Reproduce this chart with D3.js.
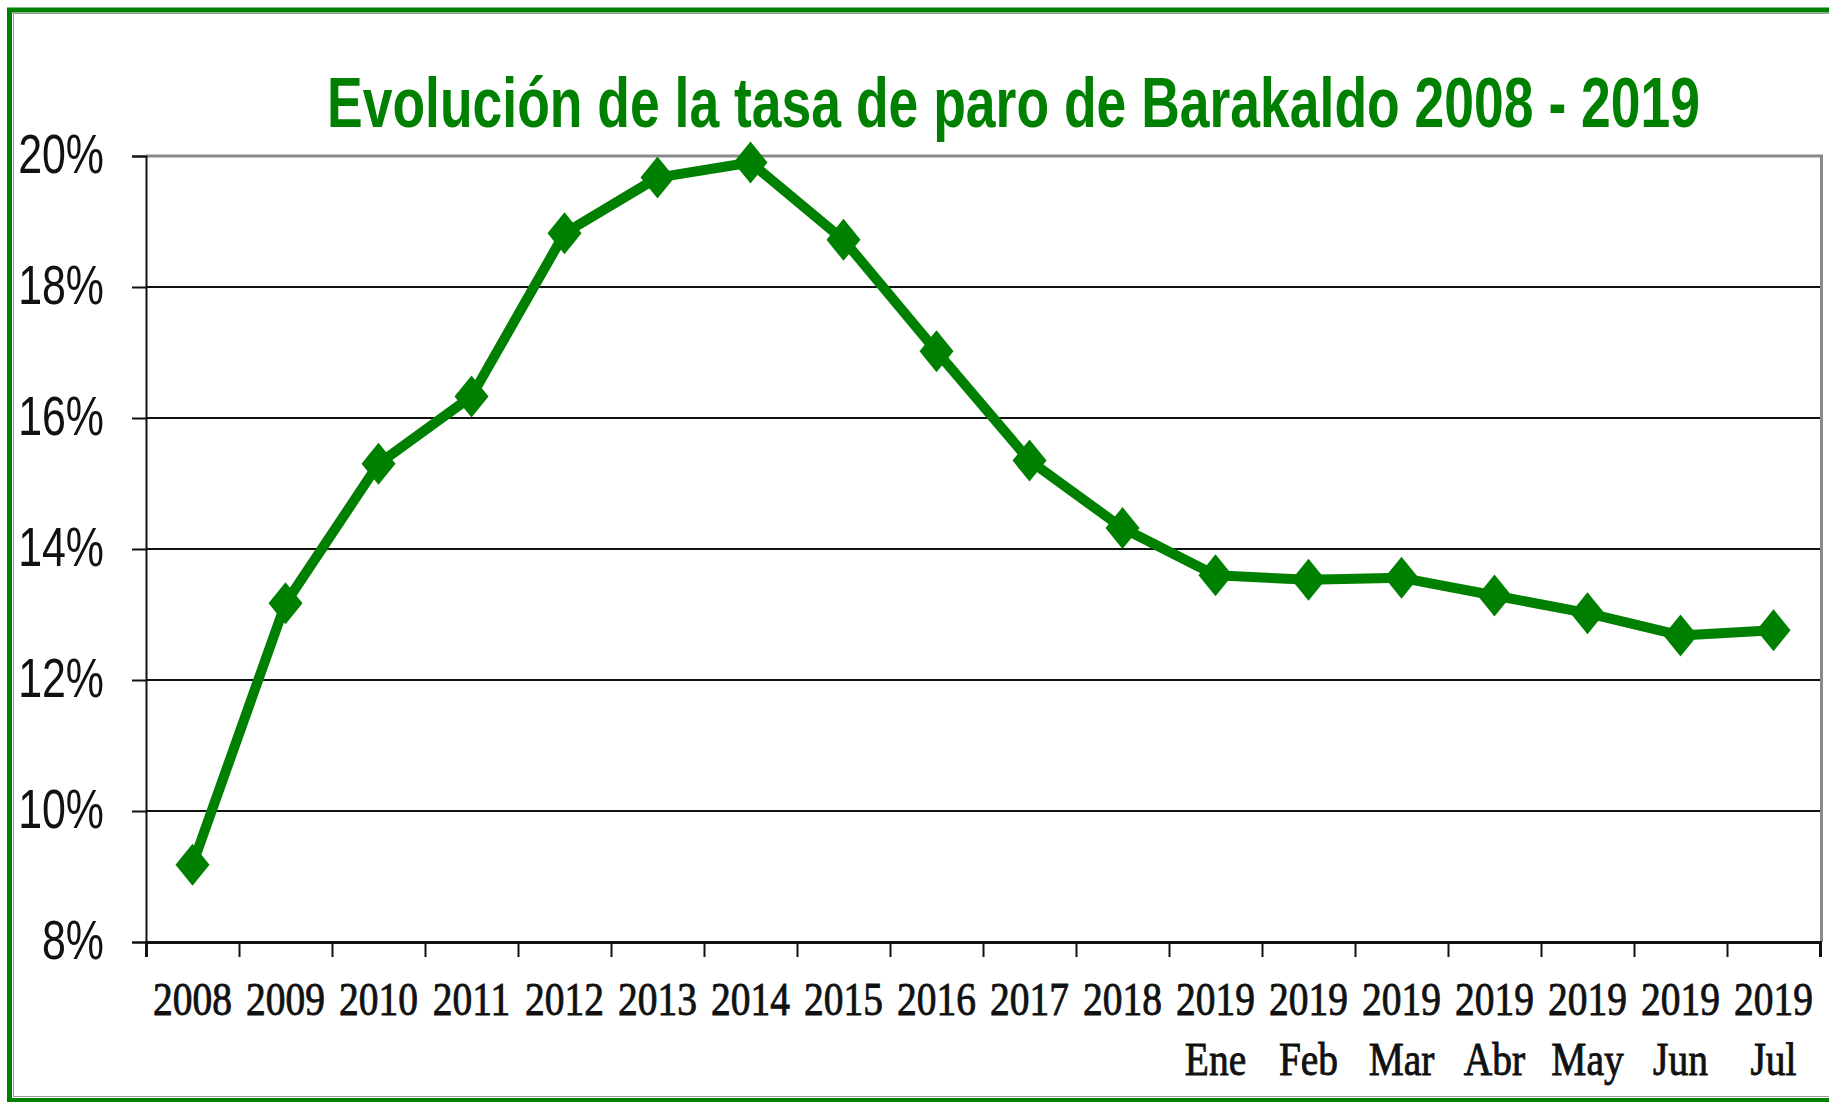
<!DOCTYPE html>
<html>
<head>
<meta charset="utf-8">
<script src="https://cdn.jsdelivr.net/npm/d3@7"></script>
<style>
  html, body { margin: 0; padding: 0; background: #fff; }
  svg { display: block; }
</style>
</head>
<body>
<svg id="chart" width="1829" height="1102"></svg>
<script>
// ---- data ----
const titleText = "Evolución de la tasa de paro de Barakaldo 2008 - 2019";
const yearLabels = ["2008","2009","2010","2011","2012","2013","2014","2015","2016","2017","2018","2019","2019","2019","2019","2019","2019","2019"];
const monthLabels = ["","","","","","","","","","","","Ene","Feb","Mar","Abr","May","Jun","Jul"];
const rates = [9.18, 13.17, 15.30, 16.33, 18.82, 19.67, 19.90, 18.72, 17.02, 15.35, 14.32, 13.60, 13.53, 13.56, 13.29, 13.02, 12.68, 12.76];
const yTicks = [8, 10, 12, 14, 16, 18, 20];

// ---- layout ----
const W = 1829, H = 1102;
const plot = { left: 146, right: 1820, top: 156, bottom: 942 };
const green = "#008000";

const svg = d3.select("#chart");
svg.append("rect").attr("width", W).attr("height", H).attr("fill", "#fff");

// outer frame
svg.append("rect").attr("x", 9.5).attr("y", 10).attr("width", 1840).attr("height", 1090.5)
  .attr("fill", "none").attr("stroke", green).attr("stroke-width", 5);
svg.append("rect").attr("x", 13.5).attr("y", 13.5).attr("width", 1840).attr("height", 1083)
  .attr("fill", "none").attr("stroke", "#9a9a9a").attr("stroke-width", 1);

// scales
const idx = d3.range(yearLabels.length);
const x = d3.scaleBand().domain(idx).range([plot.left, plot.right]).padding(0);
const xEdges = d3.scaleLinear().domain([0, yearLabels.length]).range([plot.left, plot.right]);
const y = d3.scaleLinear().domain([8, 20]).range([plot.bottom, plot.top]);

// gridlines
svg.append("g").selectAll("line").data(yTicks.filter(t => t > 8 && t < 20)).join("line")
  .attr("x1", plot.left).attr("x2", plot.right)
  .attr("y1", d => y(d)).attr("y2", d => y(d))
  .attr("stroke", "#111").attr("stroke-width", 2);

// plot border top & right (gray)
svg.append("path")
  .attr("d", `M${plot.left},${y(20)}H${plot.right + 1.5}V${plot.bottom}`)
  .attr("fill", "none").attr("stroke", "#8a8a8a").attr("stroke-width", 3);

// y axis
const yAxis = svg.append("g").attr("transform", `translate(${plot.left},0)`)
  .call(d3.axisLeft(y).tickValues(yTicks).tickSize(14).tickFormat(d => d + "%"));
yAxis.select(".domain").attr("stroke", "#111").attr("stroke-width", 2);
yAxis.selectAll(".tick line").attr("stroke", "#111").attr("stroke-width", 2);
const ySX = 0.78;
yAxis.selectAll(".tick text")
  .attr("font-family", "'Liberation Sans', Arial, sans-serif")
  .attr("font-size", 55).attr("fill", "#111")
  .attr("x", -42 / ySX).attr("dy", "0.3em")
  .attr("transform", `scale(${ySX},1)`);

// x axis boundary ticks
const xAxisTicks = svg.append("g").attr("transform", `translate(0,${plot.bottom})`)
  .call(d3.axisBottom(xEdges).tickValues(d3.range(yearLabels.length + 1)).tickSize(15).tickFormat(""));
xAxisTicks.select(".domain").attr("stroke", "#111").attr("stroke-width", 3);
xAxisTicks.selectAll(".tick line").attr("stroke", "#111").attr("stroke-width", 2);

// x labels
const xSX = 0.84;
const xLab = svg.append("g").attr("transform", `translate(0,${plot.bottom})`)
  .call(d3.axisBottom(x).tickSize(0).tickFormat(i => yearLabels[i]));
xLab.select(".domain").remove();
xLab.selectAll(".tick text")
  .attr("font-family", "'Liberation Serif', 'Times New Roman', serif")
  .attr("font-size", 47).attr("fill", "#111")
  .attr("stroke", "#111").attr("stroke-width", 0.9)
  .attr("y", 73).attr("dy", 0)
  .attr("transform", `scale(${xSX},1)`)
  .each(function(i) {
    if (monthLabels[i]) {
      d3.select(this).append("tspan").attr("x", 0).attr("y", 133).text(monthLabels[i]);
    }
  });

// line
const cx = i => x(i) + x.bandwidth() / 2;
svg.append("path").datum(rates)
  .attr("d", d3.line().x((d, i) => cx(i)).y(d => y(d)))
  .attr("fill", "none").attr("stroke", green).attr("stroke-width", 10).attr("stroke-linejoin", "round");

// markers
const hw = 17, hh = 21;
svg.append("g").selectAll("path").data(rates).join("path")
  .attr("d", (d, i) => {
    const px = cx(i), py = y(d);
    return `M${px},${py - hh}L${px + hw},${py}L${px},${py + hh}L${px - hw},${py}Z`;
  })
  .attr("fill", green);

// title
svg.append("text")
  .attr("x", 327).attr("y", 127)
  .attr("font-family", "'Liberation Sans', Arial, sans-serif")
  .attr("font-weight", "bold").attr("font-size", 70)
  .attr("fill", green)
  .attr("textLength", 1373).attr("lengthAdjust", "spacingAndGlyphs")
  .text(titleText);
</script>
</body>
</html>
